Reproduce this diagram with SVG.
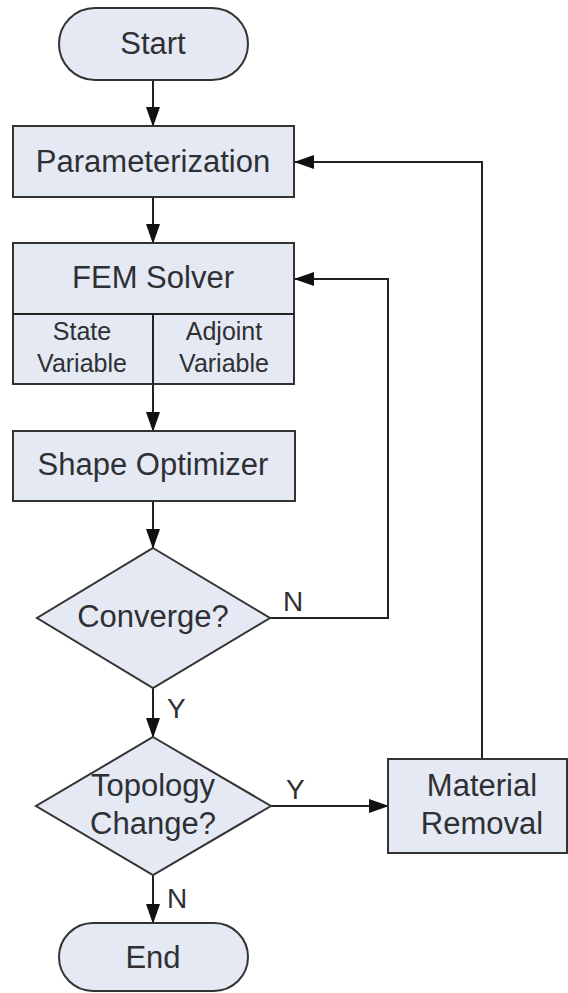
<svg xmlns="http://www.w3.org/2000/svg" width="568" height="993" viewBox="0 0 568 993">
  <style>
    .shape { fill: #e4e9f4; stroke: #333333; stroke-width: 2; }
    .line { fill: none; stroke: #222222; stroke-width: 2; }
    text { font-family: "Liberation Sans", Arial, sans-serif; fill: #2f3033; text-anchor: middle; }
    .main { font-size: 31px; }
    .sub { font-size: 25px; }
    .lbl { font-size: 28px; text-anchor: start; }
  </style>
  <defs>
    <marker id="arrow" markerWidth="10" markerHeight="7" refX="9.5" refY="3.5" orient="auto" markerUnits="strokeWidth">
      <path d="M0,0 L10,3.5 L0,7 Z" fill="#111111"/>
    </marker>
  </defs>

  <rect width="568" height="993" fill="#ffffff"/>

  <g id="connectors">
    <line class="line" x1="153" y1="80" x2="153" y2="126" marker-end="url(#arrow)"/>
    <line class="line" x1="153" y1="197" x2="153" y2="243" marker-end="url(#arrow)"/>
    <line class="line" x1="153" y1="384" x2="153" y2="431" marker-end="url(#arrow)"/>
    <line class="line" x1="153" y1="501" x2="153" y2="548" marker-end="url(#arrow)"/>
    <line class="line" x1="153" y1="688" x2="153" y2="737" marker-end="url(#arrow)"/>
    <line class="line" x1="153" y1="875" x2="153" y2="923" marker-end="url(#arrow)"/>
    <polyline class="line" points="270,618 388,618 388,279 295,279" marker-end="url(#arrow)"/>
    <line class="line" x1="271" y1="806" x2="388" y2="806" marker-end="url(#arrow)"/>
    <polyline class="line" points="482,759 482,162 295,162" marker-end="url(#arrow)"/>
    <text class="lbl" x="283" y="611">N</text>
    <text class="lbl" x="167" y="718">Y</text>
    <text class="lbl" x="286" y="799">Y</text>
    <text class="lbl" x="167" y="908">N</text>
  </g>

  <g id="start">
    <rect class="shape" x="59" y="8" width="189" height="72" rx="36" ry="36"/>
    <text class="main" x="153" y="54">Start</text>
  </g>

  <g id="parameterization">
    <rect class="shape" x="13" y="126" width="281" height="71"/>
    <text class="main" x="153" y="172">Parameterization</text>
  </g>

  <g id="fem-solver">
    <rect class="shape" x="13" y="243" width="281" height="141"/>
    <line class="line" x1="13" y1="314" x2="294" y2="314" stroke="#333333"/>
    <line class="line" x1="153" y1="314" x2="153" y2="384" stroke="#333333"/>
    <text class="main" x="153" y="288">FEM Solver</text>
    <text class="sub" x="82" y="340">State</text>
    <text class="sub" x="82" y="372">Variable</text>
    <text class="sub" x="224" y="340">Adjoint</text>
    <text class="sub" x="224" y="372">Variable</text>
  </g>

  <g id="shape-optimizer">
    <rect class="shape" x="13" y="431" width="282" height="70"/>
    <text class="main" x="153" y="475">Shape Optimizer</text>
  </g>

  <g id="converge">
    <polygon class="shape" points="153,548 270,618 153,688 37,618"/>
    <text class="main" x="153" y="627">Converge?</text>
  </g>

  <g id="topology-change">
    <polygon class="shape" points="153,737 271,806 153,875 36,806"/>
    <text class="main" x="153" y="796">Topology</text>
    <text class="main" x="153" y="834">Change?</text>
  </g>

  <g id="material-removal">
    <rect class="shape" x="388" y="759" width="179" height="94"/>
    <text class="main" x="482" y="796">Material</text>
    <text class="main" x="482" y="834">Removal</text>
  </g>

  <g id="end">
    <rect class="shape" x="59" y="923" width="189" height="68" rx="34" ry="34"/>
    <text class="main" x="153" y="968">End</text>
  </g>
</svg>
